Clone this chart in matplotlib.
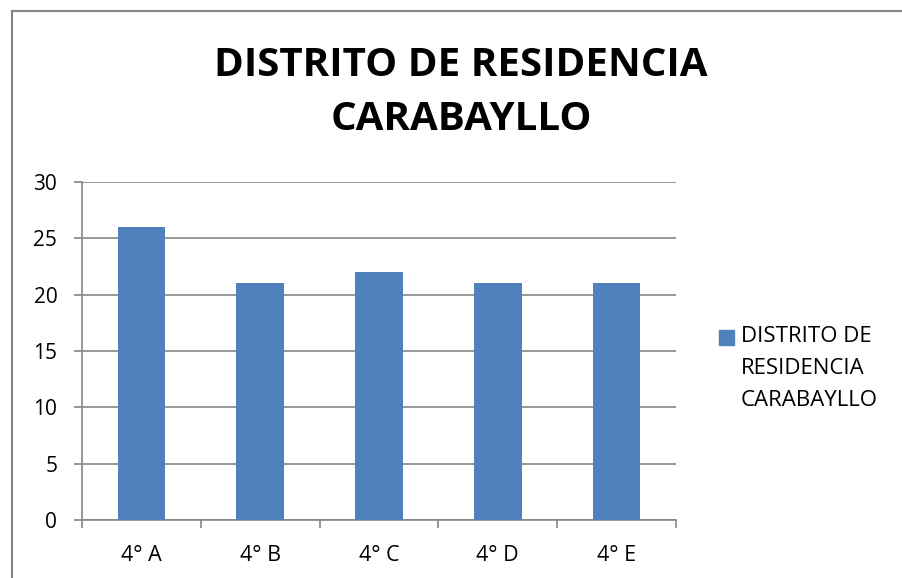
import matplotlib
matplotlib.use("Agg")
import matplotlib.pyplot as plt
from matplotlib.lines import Line2D
import numpy as np

categories = ["4° A", "4° B", "4° C", "4° D", "4° E"]
values = [26, 21, 22, 21, 21]
series_name = "DISTRITO DE\nRESIDENCIA\nCARABAYLLO"
title = "DISTRITO DE RESIDENCIA\nCARABAYLLO"
yticks = [0, 5, 10, 15, 20, 25, 30]

plt.rcParams['font.family'] = ['Open Sans', 'DejaVu Sans']

W, H = 902, 578
fig = plt.figure(figsize=(W / 100, H / 100), dpi=100)

grid_c = "#868686"
bar_c = "#4F81BD"

ax = fig.add_axes([82 / W, (H - 520) / H, (676 - 82) / W, (520 - 182) / H])
x = np.arange(len(categories))
ax.bar(x, values, width=0.4, color=bar_c, zorder=3, label=series_name.replace("\n", " "))
ax.set_xlim(-0.5, len(categories) - 0.5)
ax.set_ylim(0, 30)
ax.set_yticks(yticks)
ax.set_yticklabels([str(v) for v in yticks], fontsize=15)
ax.set_xticks(x)
ax.set_xticklabels(categories, fontsize=15.5)
ax.set_xticks(np.arange(-0.5, len(categories), 1.0), minor=True)
ax.tick_params(axis='x', which='major', length=0, pad=18)
ax.tick_params(axis='x', which='minor', length=5.8, width=1.2, color=grid_c, direction='out')
ax.tick_params(axis='y', which='major', length=5.8, width=1.2, color=grid_c, pad=12)
ax.yaxis.grid(True, color=grid_c, linewidth=1.2, zorder=0)
for s in ["top", "right"]:
    ax.spines[s].set_visible(False)
for s in ["left", "bottom"]:
    ax.spines[s].set_color(grid_c)
    ax.spines[s].set_linewidth(1.2)

fig.text(461 / W, 1 - 93 / H, title, ha='center', va='center', fontsize=29,
         fontweight='bold', linespacing=1.5)

# legend
fig.patches.append(plt.Rectangle((719 / W, 1 - 345 / H), 15 / W, 15 / H,
                                 transform=fig.transFigure, color=bar_c, figure=fig))
fig.text(741 / W, 1 - 326 / H, series_name, ha='left', va='top', fontsize=16,
         linespacing=1.68)

# outer border (partially visible)
fig.add_artist(Line2D([12 / W, 12 / W], [0, 1 - 11 / H], color=grid_c, linewidth=1.5))
fig.add_artist(Line2D([12 / W, 1], [1 - 11 / H, 1 - 11 / H], color=grid_c, linewidth=1.5))

fig.savefig("out.png", dpi=100, facecolor="white")
